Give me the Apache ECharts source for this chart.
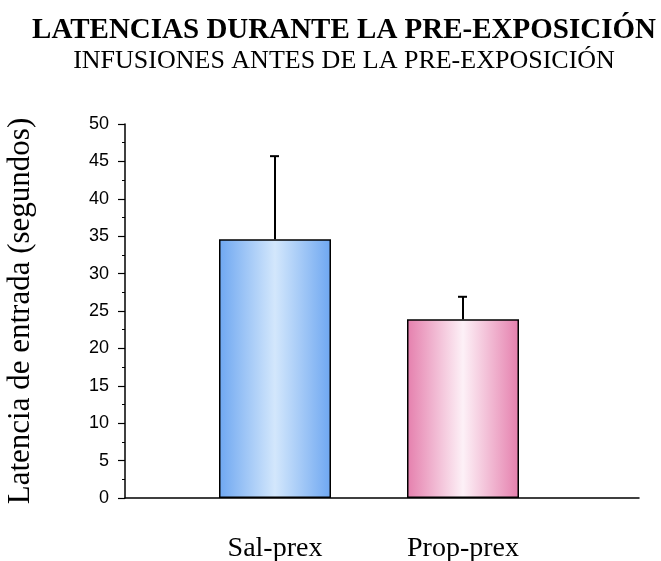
<!DOCTYPE html>
<html>
<head>
<meta charset="utf-8">
<script src="https://cdn.jsdelivr.net/npm/echarts@6/dist/echarts.min.js"></script>
<style>
html, body { margin: 0; padding: 0; background: #fff; }
#content { width: 661px; height: 561px; }
</style>
</head>
<body>
<div id="content"></div>
<script>
// datos
var groups = ["Sal-prex", "Prop-prex"];
var means = [34.6, 23.9];
var errors = [11.1, 3.0];

// colores de las barras (degradado horizontal)
var blueStops = ["#6ea7f1", "#d3e7fc", "#6ea7f1"];
var pinkStops = ["#e57fad", "#fdf1f7", "#e57fad"];

function grad(c) {
    return new echarts.graphic.LinearGradient(0, 0, 1, 0, [
        { offset: 0, color: c[0] },
        { offset: 0.5, color: c[1] },
        { offset: 1, color: c[2] }
    ]);
}

var serif = "Liberation Serif";
var sans = "Liberation Sans";

var myChart = echarts.init(document.getElementById("content"));

myChart.setOption({
    animation: false,
    title: {
        text: "LATENCIAS DURANTE LA PRE-EXPOSICIÓN",
        subtext: "INFUSIONES ANTES DE LA PRE-EXPOSICIÓN",
        left: 339,
        textAlign: "center",
        top: 11,
        itemGap: 3,
        textStyle: { fontFamily: serif, fontSize: 29, fontWeight: "bold", color: "#000" },
        subtextStyle: { fontFamily: serif, fontSize: 26, color: "#000" }
    },
    grid: [
        { left: 125, right: 22, top: 124, bottom: 63, outerBoundsMode: "none" },
        { left: 181, width: 376, top: 124, bottom: 63, outerBoundsMode: "none" }
    ],
    xAxis: [{
        gridIndex: 0,
        type: "category",
        data: [""],
        axisLine: { lineStyle: { color: "#000", width: 1.5 } },
        axisTick: { show: false },
        axisLabel: { show: false }
    }, {
        gridIndex: 1,
        type: "category",
        data: groups,
        axisLine: { show: false },
        axisTick: { show: false },
        axisLabel: { margin: 37, fontFamily: serif, fontSize: 28, color: "#000" }
    }],
    yAxis: [{
        gridIndex: 0,
        type: "value",
        min: 0,
        max: 50,
        interval: 5,
        name: "Latencia de entrada (segundos)",
        nameLocation: "middle",
        nameGap: 89,
        nameTextStyle: { fontFamily: serif, fontSize: 31, color: "#000" },
        axisLine: { show: true, lineStyle: { color: "#000", width: 1.5 } },
        axisTick: { show: true, length: 7, lineStyle: { color: "#000", width: 1.2 } },
        minorTick: { show: true, splitNumber: 2, length: 3, lineStyle: { color: "#000", width: 1 } },
        splitLine: { show: false },
        axisLabel: { margin: 16, fontFamily: sans, fontSize: 18, color: "#000" }
    }, {
        gridIndex: 1,
        type: "value",
        min: 0,
        max: 50,
        show: false
    }],
    series: [{
        type: "bar",
        xAxisIndex: 1,
        yAxisIndex: 1,
        barWidth: 112,
        data: means.map(function(v, i) {
            return {
                value: v,
                itemStyle: {
                    color: grad(i === 0 ? blueStops : pinkStops),
                    borderColor: "#000",
                    borderWidth: 1.5
                }
            };
        })
    }, {
        // barras de error (solo hacia arriba)
        type: "custom",
        xAxisIndex: 1,
        yAxisIndex: 1,
        z: 3,
        data: groups.map(function(g, i) {
            return [i, means[i], errors[i]];
        }),
        renderItem: function(params, api) {
            var x = api.value(0);
            var m = api.value(1);
            var e = api.value(2);
            var base = api.coord([x, m]);
            var top = api.coord([x, m + e]);
            return {
                type: "group",
                children: [{
                    type: "line",
                    shape: { x1: base[0], y1: base[1], x2: top[0], y2: top[1] },
                    style: { stroke: "#000", lineWidth: 2 }
                }, {
                    type: "line",
                    shape: { x1: top[0] - 5, y1: top[1], x2: top[0] + 4, y2: top[1] },
                    style: { stroke: "#000", lineWidth: 2 }
                }]
            };
        }
    }]
});
</script>
</body>
</html>
